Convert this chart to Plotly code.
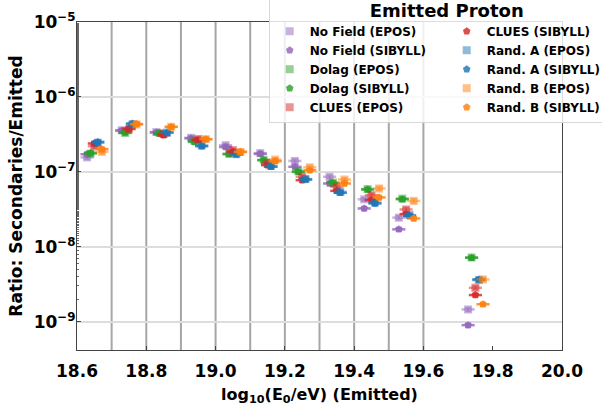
import plotly.graph_objects as go

# ---------------- data ----------------
bin_centers = [18.65, 18.75, 18.85, 18.95, 19.05, 19.15, 19.25, 19.35, 19.45, 19.55, 19.75]
bin_edges = [18.7, 18.8, 18.9, 19.0, 19.1, 19.2, 19.3, 19.4, 19.5, 19.6]

nofield_epos   = [1.56e-7, 3.60e-7, 3.40e-7, 2.85e-7, 2.27e-7, 1.78e-7, 1.40e-7, 8.6e-8, 4.3e-8, 2.45e-8, 1.46e-9]
nofield_sibyll = [1.72e-7, 3.55e-7, 3.35e-7, 2.80e-7, 2.15e-7, 1.74e-7, 1.17e-7, 7.0e-8, 3.25e-8, 1.71e-8, 9.0e-10]
dolag_epos     = [1.75e-7, 3.30e-7, 3.30e-7, 2.60e-7, 1.75e-7, 1.45e-7, 1.02e-7, 7.2e-8, 5.9e-8, 4.4e-8, 7.2e-9]
dolag_sibyll   = [1.79e-7, 3.35e-7, 3.25e-7, 2.51e-7, 1.72e-7, 1.43e-7, 1.00e-7, 7.1e-8, 5.82e-8, 4.32e-8, 7.14e-9]
clues_epos     = [2.20e-7, 3.70e-7, 3.20e-7, 2.75e-7, 1.95e-7, 1.29e-7, 8.6e-8, 6.3e-8, 4.89e-8, 3.15e-8, 2.84e-9]
clues_sibyll   = [2.39e-7, 3.79e-7, 3.08e-7, 2.64e-7, 1.85e-7, 1.23e-7, 7.75e-8, 5.58e-8, 4.2e-8, 2.73e-8, 2.27e-9]
randa_epos     = [2.45e-7, 4.30e-7, 3.35e-7, 2.25e-7, 1.72e-7, 1.20e-7, 8.0e-8, 5.4e-8, 3.9e-8, 2.65e-8, 3.6e-9]
randa_sibyll   = [2.51e-7, 4.42e-7, 3.35e-7, 2.20e-7, 1.70e-7, 1.17e-7, 7.9e-8, 5.25e-8, 3.79e-8, 2.6e-8, 3.67e-9]
randb_epos     = [1.85e-7, 4.30e-7, 4.00e-7, 2.73e-7, 1.85e-7, 1.46e-7, 1.15e-7, 7.9e-8, 6.0e-8, 4.1e-8, 3.67e-9]
randb_sibyll   = [2.01e-7, 4.35e-7, 3.98e-7, 2.73e-7, 1.85e-7, 1.39e-7, 1.05e-7, 7.0e-8, 4.56e-8, 2.39e-8, 1.71e-9]

series_names = ["No Field (EPOS)", "No Field (SIBYLL)", "Dolag (EPOS)", "Dolag (SIBYLL)",
                "CLUES (EPOS)", "CLUES (SIBYLL)", "Rand. A (EPOS)", "Rand. A (SIBYLL)",
                "Rand. B (EPOS)", "Rand. B (SIBYLL)"]
series_values = [nofield_epos, nofield_sibyll, dolag_epos, dolag_sibyll, clues_epos,
                 clues_sibyll, randa_epos, randa_sibyll, randb_epos, randb_sibyll]

x_ticks = [18.6, 18.8, 19.0, 19.2, 19.4, 19.6, 19.8, 20.0]
y_ticks = [1e-9, 1e-8, 1e-7, 1e-6, 1e-5]
y_ticktext = ["10<sup>−9</sup>", "10<sup>−8</sup>", "10<sup>−7</sup>", "10<sup>−6</sup>", "10<sup>−5</sup>"]

# ---------------- style ----------------
FONT = "DejaVu Sans"
model_colors = ["148,103,189", "44,160,44", "214,39,40", "31,119,180", "255,127,14"]
model_offsets = [-0.021, -0.011, 0.0, 0.01, 0.022]
# legend order: two columns filled column-wise (horizontal legend, 2 per row)
legend_rank = [1, 3, 5, 7, 9, 2, 4, 6, 8, 10]

fig = go.Figure()

for edge in bin_edges:
    fig.add_shape(type="line", xref="x", yref="paper", x0=edge, x1=edge, y0=0, y1=1,
                  line=dict(color="rgba(128,128,128,0.7)", width=2), layer="below")

for i, (name, vals) in enumerate(zip(series_names, series_values)):
    m = i // 2
    epos = (i % 2 == 0)
    alpha = 0.5 if epos else 0.82
    col = f"rgba({model_colors[m]},{alpha})"
    xs = [c + model_offsets[m] for c in bin_centers]
    fig.add_trace(go.Scatter(
        x=xs, y=vals, mode="markers", name=name,
        legendrank=legend_rank[i],
        marker=dict(symbol="square" if epos else "pentagon", size=8,
                    color=col, line=dict(width=0)),
        error_x=dict(type="constant", value=0.019, thickness=2.5, width=0, color=col),
        error_y=dict(type="percent", value=6, thickness=1.5, width=3, color=col),
    ))

fig.update_layout(
    width=602, height=412,
    margin=dict(l=77, r=40, t=22, b=62, autoexpand=False),
    plot_bgcolor="white", paper_bgcolor="white",
    font=dict(family=FONT, color="black"),
    showlegend=True,
    legend=dict(
        orientation="h", x=1.1293, xanchor="right", y=1.0904, yanchor="top",
        entrywidth=132, entrywidthmode="pixels", itemwidth=30,
        bgcolor="rgba(255,255,255,0.82)", bordercolor="#d8d8d8", borderwidth=1,
        font=dict(family=FONT, size=12, weight="bold"),
        title=dict(text="Emitted Proton", side="top center",
                   font=dict(family=FONT, size=18, weight="bold")),
        tracegroupgap=0,
    ),
    xaxis=dict(
        range=[18.6, 20.0], tickvals=x_ticks, tickformat=".1f",
        ticks="inside", ticklen=4, tickcolor="#444",
        ticklabelstandoff=6,
        showgrid=False, zeroline=False,
        showline=True, linecolor="#444", linewidth=1, mirror=True,
        tickfont=dict(family=FONT, size=17, weight="bold"),
        title=dict(text="log<sub>10</sub>(E<sub>0</sub>/eV) (Emitted)", standoff=8,
                   font=dict(family=FONT, size=16, weight="bold")),
    ),
    yaxis=dict(
        type="log", range=[-9.377, -5.0],
        tickvals=y_ticks, ticktext=y_ticktext,
        ticks="inside", ticklen=4, tickcolor="#444",
        ticklabelstandoff=-3,
        minor=dict(ticks="inside", ticklen=2, tickcolor="#666", showgrid=False),
        showgrid=True, gridcolor="#dddddd", gridwidth=1.5,
        zeroline=False,
        showline=True, linecolor="#444", linewidth=1, mirror=True,
        tickfont=dict(family=FONT, size=17, weight="bold"),
        title=dict(text="Ratio: Secondaries/Emitted", standoff=6,
                   font=dict(family=FONT, size=17, weight="bold")),
    ),
)

fig.write_html("out.html")
